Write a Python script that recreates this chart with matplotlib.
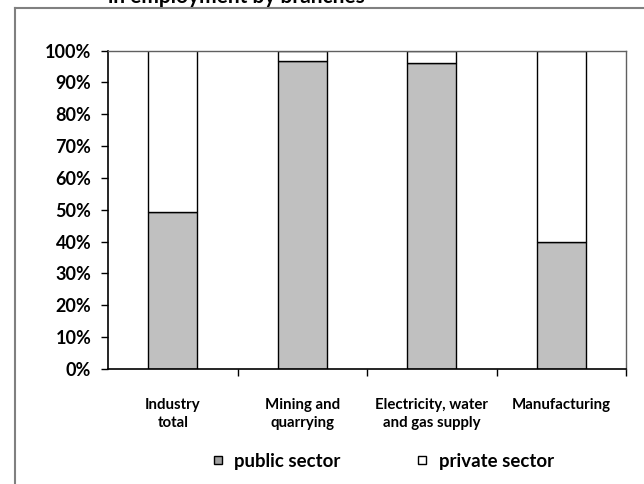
import matplotlib.pyplot as plt
from matplotlib.lines import Line2D

plt.rcParams['font.family'] = ['Lato', 'DejaVu Sans']
plt.rcParams['font.weight'] = 'bold'

# data (share of employment, %)
branches = ['Industry\ntotal', 'Mining and\nquarrying', 'Electricity, water\nand gas supply', 'Manufacturing']
public = [49.3, 96.8, 96.2, 39.9]
private = [100 - p for p in public]
yticks = list(range(0, 101, 10))
ylabels = [str(t) + '%' for t in yticks]

fig = plt.figure(figsize=(6.44, 4.84), dpi=100)
ax = fig.add_axes([108/644, 1-369/484, (626-108)/644, (369-50.5)/484])

x = list(range(len(branches)))
ax.bar(x, public, width=0.38, color='#c0c0c0', edgecolor='black', linewidth=1)
ax.bar(x, private, bottom=public, width=0.38, color='white', edgecolor='black', linewidth=1)

ax.set_xlim(-0.5, len(branches) - 0.5)
ax.set_ylim(0, 100)
ax.set_yticks(yticks)
ax.set_yticklabels(ylabels, fontsize=13, fontweight='bold')
ax.set_xticks(x)
ax.set_xticklabels(branches, fontsize=10.8, fontweight='bold', linespacing=1.35)
ax.tick_params(axis='x', length=0, pad=21)
ax.set_xticks([i + 0.5 for i in x], minor=True)
ax.tick_params(axis='x', which='minor', length=5, width=1)
ax.tick_params(axis='y', length=5, width=1, pad=7)

for s in ['left', 'bottom']:
    ax.spines[s].set_color('black')
    ax.spines[s].set_linewidth(1.2)
for s in ['top', 'right']:
    ax.spines[s].set_color('#606060')
    ax.spines[s].set_linewidth(1.0)

# legend
handles = [Line2D([], [], marker='s', linestyle='none', markersize=6,
                  markerfacecolor='#a0a0a0', markeredgecolor='black', markeredgewidth=1),
           Line2D([], [], marker='s', linestyle='none', markersize=6,
                  markerfacecolor='white', markeredgecolor='black', markeredgewidth=1)]
fig.legend(handles, ['public sector', 'private sector'], loc='center',
           bbox_to_anchor=(382/644, 1-461/484), ncol=2, frameon=False,
           prop={'size': 13.4, 'weight': 'bold'}, handletextpad=0.5,
           columnspacing=3.95, handlelength=0.8)

# outer chart frame (partially visible)
fig.add_artist(Line2D([15/644, 15/644], [0, 1-8/484], transform=fig.transFigure,
                      color='#808080', linewidth=1.5))
fig.add_artist(Line2D([15/644, 1], [1-8/484, 1-8/484], transform=fig.transFigure,
                      color='#808080', linewidth=1.5))

# title, cut off at the top as in the source
fig.text(108/644, 1-3/484, 'in employment by branches', fontsize=15,
         fontweight='bold', ha='left', va='baseline')

fig.savefig('out.png', dpi=100)
